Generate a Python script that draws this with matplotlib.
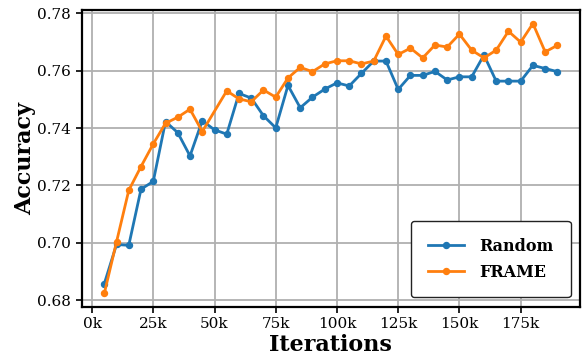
import matplotlib
matplotlib.use("Agg")
import matplotlib.pyplot as plt
import numpy as np

plt.rcParams["font.family"] = ["DejaVu Serif"]

iterations_random = list(range(5000, 190001, 5000))
acc_random = [
    0.6857, 0.6994, 0.6991, 0.7187, 0.7214, 0.7423, 0.7384, 0.7303, 0.7426, 0.7394,
    0.7379, 0.7521, 0.7505, 0.7443, 0.7401, 0.7549, 0.7471, 0.7508, 0.7536, 0.7558,
    0.7547, 0.7591, 0.7634, 0.7634, 0.7535, 0.7584, 0.7584, 0.7598, 0.7568, 0.7579,
    0.7579, 0.7655, 0.7564, 0.7564, 0.7564, 0.7619, 0.7608, 0.7597,
]

iterations_frame = [x for x in range(5000, 190001, 5000) if x != 50000]
acc_frame = [
    0.6823, 0.7003, 0.7183, 0.7266, 0.7345, 0.7417, 0.7438, 0.7466, 0.7388,
    0.7530, 0.7502, 0.7492, 0.7533, 0.7508, 0.7575, 0.7612, 0.7597, 0.7624, 0.7635,
    0.7635, 0.7624, 0.7634, 0.7721, 0.7657, 0.7679, 0.7645, 0.7690, 0.7683, 0.7728,
    0.7672, 0.7645, 0.7672, 0.7738, 0.7700, 0.7765, 0.7666, 0.7689,
]

xtick_values = [0, 25000, 50000, 75000, 100000, 125000, 150000, 175000]
xtick_labels = ["0k", "25k", "50k", "75k", "100k", "125k", "150k", "175k"]

fig = plt.figure(figsize=(5.83, 3.58), dpi=100)
ax = fig.add_axes([0.140, 0.1425, 0.855, 0.8295])

ax.plot(iterations_random, acc_random, "-o", color="#1f77b4", lw=2, ms=4.3, label="Random")
ax.plot(iterations_frame, acc_frame, "-o", color="#ff7f0e", lw=2, ms=4.3, label="FRAME")

ax.set_xticks(xtick_values)
ax.set_xticklabels(xtick_labels)
ax.set_yticks([0.68, 0.70, 0.72, 0.74, 0.76, 0.78])
ax.tick_params(labelsize=11, width=1.2, length=4)
ax.grid(True, color="#b0b0b0", lw=1.3)
ax.set_axisbelow(True)
for s in ax.spines.values():
    s.set_linewidth(1.6)
    s.set_color("black")

ax.set_xlabel("Iterations", fontsize=16, fontweight="bold", labelpad=2)
ax.set_ylabel("Accuracy", fontsize=16, fontweight="bold", labelpad=1)

leg = ax.legend(loc="lower right", prop={"weight": "bold", "size": 11.5},
                borderpad=1.05, handlelength=2.3, labelspacing=0.55,
                handletextpad=0.95, borderaxespad=0.6,
                fancybox=True, framealpha=1.0, edgecolor="#222222")
leg.get_frame().set_linewidth(1.0)

fig.savefig("out.png", dpi=100)
